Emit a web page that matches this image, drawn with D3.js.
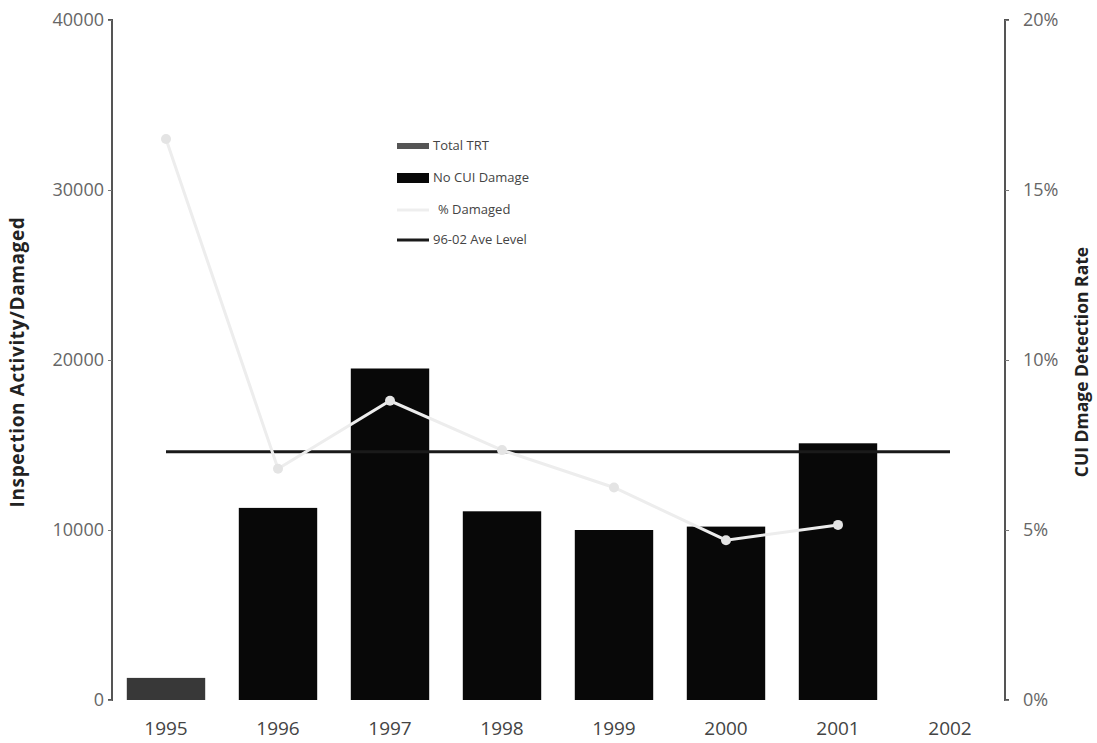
<!DOCTYPE html>
<html><head><meta charset="utf-8">
<script src="https://cdn.jsdelivr.net/npm/d3@7"></script>
<style>body{margin:0;background:#fff}svg{display:block}text{font-family:"Open Sans",sans-serif}</style>
</head><body><svg id="c" width="1097" height="743"></svg>
<script>
const years = ["1995","1996","1997","1998","1999","2000","2001","2002"];
const totalTRT = [1300, null, null, null, null, null, null, null];
const noCUI = [null, 11300, 19500, 11100, 10000, 10200, 15100, null];
const pctDamaged = [16.5, 6.8, 8.8, 7.35, 6.25, 4.7, 5.15, null];
const aveLevel = [7.3, 7.3, 7.3, 7.3, 7.3, 7.3, 7.3, 7.3];
const leftTicks = [0, 10000, 20000, 30000, 40000];
const rightTicks = [0, 5, 10, 15, 20];
const legendLabels = ["Total TRT", "No CUI Damage", "% Damaged", "96-02 Ave Level"];

const svg = d3.select("#c");
const x = d3.scaleBand().domain(years).range([110, 1006]).paddingInner(0.3).paddingOuter(0.15);
const yL = d3.scaleLinear().domain([0, 40000]).range([700, 20]);
const yR = d3.scaleLinear().domain([0, 20]).range([700, 20]);
const cx = d => x(d) + x.bandwidth() / 2;

// bars
svg.append("g").selectAll("rect").data(years.map((y, i) => ({y, v: totalTRT[i]})).filter(d => d.v != null))
  .join("rect").attr("x", d => x(d.y)).attr("width", x.bandwidth())
  .attr("y", d => yL(d.v)).attr("height", d => yL(0) - yL(d.v)).attr("fill", "#383838");
svg.append("g").selectAll("rect").data(years.map((y, i) => ({y, v: noCUI[i]})).filter(d => d.v != null))
  .join("rect").attr("x", d => x(d.y)).attr("width", x.bandwidth())
  .attr("y", d => yL(d.v)).attr("height", d => yL(0) - yL(d.v)).attr("fill", "#080808");

// ave level line
const aveData = years.map((y, i) => ({y, v: aveLevel[i]}));
svg.append("path").datum(aveData)
  .attr("d", d3.line().x(d => cx(d.y)).y(d => yR(d.v)))
  .attr("fill", "none").attr("stroke", "#1a1a1a").attr("stroke-width", 3);

// % damaged line
const pData = years.map((y, i) => ({y, v: pctDamaged[i]})).filter(d => d.v != null);
svg.append("path").datum(pData)
  .attr("d", d3.line().x(d => cx(d.y)).y(d => yR(d.v)))
  .attr("fill", "none").attr("stroke", "#ededed").attr("stroke-width", 3);
svg.append("g").selectAll("circle").data(pData).join("circle")
  .attr("cx", d => cx(d.y)).attr("cy", d => yR(d.v)).attr("r", 5).attr("fill", "#e4e4e4");

// left axis
const gL = svg.append("g").attr("transform", "translate(112,0)")
  .call(d3.axisLeft(yL).tickValues(leftTicks).tickSize(4).tickFormat(d3.format("d")));
gL.select(".domain").attr("stroke", "#555").attr("stroke-width", 2).attr("d", "M-4,20H0V700H-4");
gL.selectAll(".tick line").attr("stroke", "#777");
gL.selectAll(".tick text").attr("fill", "#666").attr("font-size", 18).attr("x", -8);

// right axis
const gR = svg.append("g").attr("transform", "translate(1005,0)")
  .call(d3.axisRight(yR).tickValues(rightTicks).tickSize(4).tickFormat(d => d + "%"));
gR.select(".domain").attr("stroke", "#555").attr("stroke-width", 2).attr("d", "M4,20H0V700H4");
gR.selectAll(".tick line").attr("stroke", "#777");
gR.selectAll(".tick text").attr("fill", "#666").attr("font-size", 18).attr("x", 18);

// x labels
svg.append("g").selectAll("text").data(years).join("text")
  .attr("x", d => cx(d)).attr("y", 735).attr("text-anchor", "middle")
  .attr("fill", "#444").attr("font-size", 19).text(d => d);

// axis titles
svg.append("text").attr("transform", "translate(24,362) rotate(-90)").attr("text-anchor", "middle")
  .attr("font-size", 19).attr("font-weight", "bold").attr("fill", "#222").attr("letter-spacing", 0.6)
  .text("Inspection Activity/Damaged");
svg.append("text").attr("transform", "translate(1088,362) rotate(-90)").attr("text-anchor", "middle")
  .attr("font-size", 17.5).attr("font-weight", "bold").attr("fill", "#222").text("CUI Dmage Detection Rate");

// legend
const lg = svg.append("g").attr("transform", "translate(397,0)");
const ly = [146, 178, 210, 240];
lg.append("rect").attr("x", 0).attr("y", ly[0] - 3).attr("width", 32).attr("height", 6).attr("fill", "#555");
lg.append("rect").attr("x", 0).attr("y", ly[1] - 5).attr("width", 32).attr("height", 10).attr("fill", "#080808");
lg.append("line").attr("x1", 0).attr("x2", 32).attr("y1", ly[2]).attr("y2", ly[2]).attr("stroke", "#eeeeee").attr("stroke-width", 3);
lg.append("line").attr("x1", 0).attr("x2", 32).attr("y1", ly[3]).attr("y2", ly[3]).attr("stroke", "#1a1a1a").attr("stroke-width", 3);
lg.selectAll("text").data(legendLabels).join("text")
  .attr("x", (d, i) => i === 2 ? 41 : 36).attr("y", (d, i) => ly[i] + 4)
  .attr("font-size", 13).attr("fill", "#444").text(d => d);
</script></body></html>
